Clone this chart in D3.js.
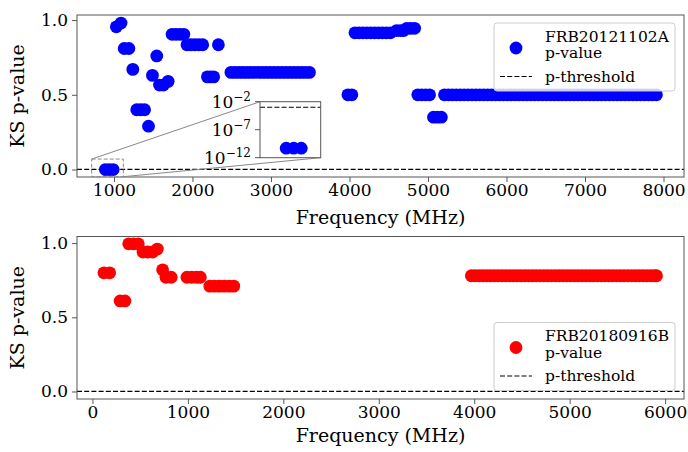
<!DOCTYPE html>
<html><head><meta charset="utf-8">
<script src="https://cdn.jsdelivr.net/npm/d3@7"></script>
<style>body{margin:0;background:#fff} text{font-family:"DejaVu Serif",serif;fill:#000}</style>
</head><body><svg id="c" width="688" height="452"></svg>
<script>
// ---------------- data ----------------
const topName = "FRB20121102A";
const topFreq = [890,940,990,1030,1090,1130,1190,1240,1290,1340,1390,1440,1490,1545,1580,1630,1690,
  1740,1790,1840,1890,1930,1980,2030,2080,2130,2190,2230,2270,2330,
  2490,2540,2590,2640,2690,2740,2790,2840,2890,2940,2990,3040,3090,3140,3190,3240,3290,3340,3390,3440,3490,
  3980,4030,4070,4120,4170,4220,4270,4320,4370,4420,4470,4520,4600,4650,4690,4730,4780,4830,
  4870,4920,4970,5020,5070,5120,5170,
  5210,5260,5310,5360,5410,5460,5510,5560,5610,5660,5710,5760,5810,5860,5910,5960,6010,6060,6110,6160,
  6210,6260,6310,6360,6410,6460,6510,6560,6610,6660,6710,6760,6810,6860,6910,6960,7010,7060,7110,7160,
  7210,7260,7310,7360,7410,7460,7510,7560,7610,7660,7710,7760,7810,7860,7910];
const topPval = [5e-11,5e-11,5e-11,0.955,0.98,0.81,0.81,0.67,0.40,0.40,0.40,0.29,0.63,0.76,0.565,0.565,0.59,
  0.905,0.905,0.905,0.905,0.835,0.835,0.835,0.835,0.835,0.62,0.62,0.62,0.835,
  0.65,0.65,0.65,0.65,0.65,0.65,0.65,0.65,0.65,0.65,0.65,0.65,0.65,0.65,0.65,0.65,0.65,0.65,0.65,0.65,0.65,
  0.5,0.5,0.915,0.915,0.915,0.915,0.915,0.915,0.915,0.915,0.915,0.915,0.93,0.93,0.93,0.945,0.945,0.945,
  0.5,0.5,0.5,0.5,0.35,0.35,0.35,
  0.5,0.5,0.5,0.5,0.5,0.5,0.5,0.5,0.5,0.5,0.5,0.5,0.5,0.5,0.5,0.5,0.5,0.5,0.5,0.5,
  0.5,0.5,0.5,0.5,0.5,0.5,0.5,0.5,0.5,0.5,0.5,0.5,0.5,0.5,0.5,0.5,0.5,0.5,0.5,0.5,
  0.5,0.5,0.5,0.5,0.5,0.5,0.5,0.5,0.5,0.5,0.5,0.5,0.5,0.5,0.5];
const topXTicks = [1000,2000,3000,4000,5000,6000,7000,8000];

const botName = "FRB20180916B";
const botFreq = [120,180,290,340,380,430,480,530,580,630,680,735,770,825,990,1040,1090,1130,
  1230,1280,1330,1380,1430,1480,
  3970,4010,4050,4090,4130,4170,4210,4250,4290,4330,4370,4410,4450,4490,4530,4570,4610,4650,4690,4730,
  4770,4810,4850,4890,4930,4970,5010,5050,5090,5130,5170,5210,5250,5290,5330,5370,5410,5450,5490,5530,
  5570,5610,5650,5690,5730,5770,5810,5850,5890,5910];
const botPval = [0.80,0.80,0.61,0.61,0.995,0.995,0.995,0.94,0.94,0.94,0.96,0.82,0.77,0.77,0.77,0.77,0.77,0.77,
  0.71,0.71,0.71,0.71,0.71,0.71,
  0.78,0.78,0.78,0.78,0.78,0.78,0.78,0.78,0.78,0.78,0.78,0.78,0.78,0.78,0.78,0.78,0.78,0.78,0.78,0.78,
  0.78,0.78,0.78,0.78,0.78,0.78,0.78,0.78,0.78,0.78,0.78,0.78,0.78,0.78,0.78,0.78,0.78,0.78,0.78,0.78,
  0.78,0.78,0.78,0.78,0.78,0.78,0.78,0.78,0.78,0.78];
const botXTicks = [0,1000,2000,3000,4000,5000,6000];

const yTicks = [0.0, 0.5, 1.0];
const pThreshold = 0.001;
const insetXRange = [716, 1119];
const insetYRange = [1e-12, 1e-2];
const insetYTicks = [{v:1e-2,e:"\u22122"},{v:1e-7,e:"\u22127"},{v:1e-12,e:"\u221212"}];
const zoomRectY = [-0.048, 0.07];

// ---------------- drawing ----------------
const svg = d3.select("#c");
const R = 6.4;
const frameColor = "#555";

function panel(o){
  const g = svg.append("g");
  const x = d3.scaleLinear().domain(o.xDom).range([o.L, o.Rt]);
  const y = d3.scaleLinear().domain(o.yDom).range([o.B, o.T]);
  // threshold
  g.append("line").attr("x1",o.L).attr("x2",o.Rt).attr("y1",y(pThreshold)).attr("y2",y(pThreshold))
    .attr("stroke","#000").attr("stroke-width",1.1).attr("stroke-dasharray","5,2.2");
  // dots
  g.append("g").selectAll("circle").data(o.freq.map((f,i)=>[f,o.pval[i]])).join("circle")
    .attr("cx",d=>x(d[0])).attr("cy",d=>y(d[1])).attr("r",R).attr("fill",o.color);
  // axes
  const xa = g.append("g").attr("transform",`translate(0,${o.B})`)
    .call(d3.axisBottom(x).tickValues(o.xTicks).tickSize(5).tickPadding(2).tickFormat(d3.format("d")));
  const ya = g.append("g").attr("transform",`translate(${o.L},0)`)
    .call(d3.axisLeft(y).tickValues(yTicks).tickSize(5).tickPadding(4).tickFormat(d3.format(".1f")));
  [xa,ya].forEach(a=>{
    a.select(".domain").remove();
    a.selectAll(".tick line").attr("stroke",frameColor);
    a.selectAll(".tick text").attr("font-size",17).attr("font-family","DejaVu Serif").attr("fill","#000");
  });
  g.append("rect").attr("x",o.L).attr("y",o.T).attr("width",o.Rt-o.L).attr("height",o.B-o.T)
    .attr("fill","none").attr("stroke",frameColor).attr("stroke-width",1);
  // labels
  g.append("text").attr("x",(o.L+o.Rt)/2).attr("y",o.xlabY).attr("text-anchor","middle")
    .attr("font-size",19).text("Frequency (MHz)");
  g.append("text").attr("transform",`translate(24,${(o.T+o.B)/2}) rotate(-90)`).attr("text-anchor","middle")
    .attr("font-size",19).text("KS p-value");
  // legend
  const lg = g.append("g").attr("transform",`translate(${o.legX},${o.legY})`);
  lg.append("rect").attr("width",181).attr("height",68).attr("rx",3)
    .attr("fill","#fff").attr("fill-opacity",0.8).attr("stroke","#ccc");
  lg.append("circle").attr("cx",22).attr("cy",25).attr("r",R).attr("fill",o.color);
  lg.append("text").attr("x",51).attr("y",18.5).attr("font-size",15.5).text(o.name);
  lg.append("text").attr("x",51).attr("y",35).attr("font-size",15.5).text("p-value");
  lg.append("line").attr("x1",6).attr("x2",38).attr("y1",53.5).attr("y2",53.5)
    .attr("stroke","#000").attr("stroke-width",1.1).attr("stroke-dasharray","5,2.2");
  lg.append("text").attr("x",51).attr("y",58.5).attr("font-size",15.5).text("p-threshold");
  return {g,x,y};
}

const P1 = panel({L:77,Rt:684,T:15,B:177,xDom:[529,8261],yDom:[-0.05,1.034],
  freq:topFreq,pval:topPval,color:"#0000ff",xTicks:topXTicks,xlabY:224,name:topName,legX:494,legY:23});
const P2 = panel({L:77,Rt:684,T:236.5,B:399,xDom:[-162,6198],yDom:[-0.0506,1.0445],
  freq:botFreq,pval:botPval,color:"#ff0000",xTicks:botXTicks,xlabY:442,name:botName,legX:494,legY:322.5});

// inset for top panel
(function(){
  const {g,x,y} = P1;
  const iL=260, iR=320.7, iT=101.7, iB=157.7;
  const rx0=x(insetXRange[0]), rx1=x(insetXRange[1]), ry0=y(zoomRectY[1]), ry1=y(zoomRectY[0]);
  g.append("rect").attr("x",rx0).attr("y",ry0).attr("width",rx1-rx0).attr("height",ry1-ry0)
    .attr("fill","none").attr("stroke","#888").attr("stroke-width",1).attr("stroke-dasharray","4,2");
  g.append("line").attr("x1",rx0).attr("y1",ry0).attr("x2",iL).attr("y2",iT).attr("stroke","#888");
  g.append("line").attr("x1",rx1).attr("y1",ry1).attr("x2",iR).attr("y2",iB).attr("stroke","#888");
  const ix = d3.scaleLinear().domain(insetXRange).range([iL,iR]);
  const iy = d3.scaleLog().domain(insetYRange).range([iB,iT]);
  const ig = g.append("g");
  ig.append("rect").attr("x",iL).attr("y",iT).attr("width",iR-iL).attr("height",iB-iT).attr("fill","#fff");
  ig.append("line").attr("x1",iL).attr("x2",iR).attr("y1",iy(pThreshold)).attr("y2",iy(pThreshold))
    .attr("stroke","#000").attr("stroke-width",1.1).attr("stroke-dasharray","5,2.2");
  const pts = topFreq.map((f,i)=>[f,topPval[i]]).filter(d=>d[0]>=insetXRange[0]&&d[0]<=insetXRange[1]&&d[1]<insetYRange[1]);
  ig.selectAll("circle").data(pts).join("circle").attr("cx",d=>ix(d[0])).attr("cy",d=>iy(d[1])).attr("r",R).attr("fill","#0000ff");
  insetYTicks.forEach(t=>{
    ig.append("line").attr("x1",iL-5).attr("x2",iL).attr("y1",iy(t.v)).attr("y2",iy(t.v)).attr("stroke",frameColor);
    const tx = ig.append("text").attr("x",iL-9).attr("y",iy(t.v)+6).attr("text-anchor","end").attr("font-size",17);
    tx.append("tspan").text("10");
    tx.append("tspan").attr("dy",-7).attr("font-size",12).text(t.e);
  });
  ig.append("rect").attr("x",iL).attr("y",iT).attr("width",iR-iL).attr("height",iB-iT)
    .attr("fill","none").attr("stroke",frameColor);
})();
</script></body></html>
